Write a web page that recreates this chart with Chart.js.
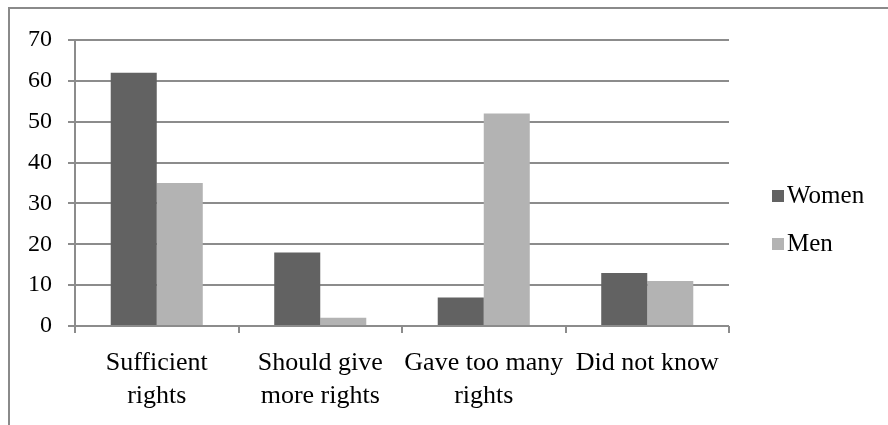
<!DOCTYPE html>
<html>
<head>
<meta charset="utf-8">
<script src="https://cdn.jsdelivr.net/npm/chart.js@4.4.1/dist/chart.umd.min.js"></script>
<style>
	html, body { margin: 0; padding: 0; background: #fff; }
	.frame {
		position: absolute;
		left: 8px;
		top: 7px;
		width: 880px;
		height: 418px;
		border-top: 2px solid #8a8a8a;
		border-left: 2px solid #8a8a8a;
	}
	#chart-rights { position: absolute; left: 0; top: 0; }
</style>
</head>
<body>
<div class="frame"></div>
<canvas id="chart-rights" width="888" height="425"></canvas>
<script>
// Data
const CATEGORIES = [["Sufficient", "rights"], ["Should give", "more rights"], ["Gave too many", "rights"], ["Did not know"]];
const WOMEN = [62, 18, 7, 13];
const MEN = [35, 2, 52, 11];
const Y_TICKS = [0, 10, 20, 30, 40, 50, 60, 70];

const FONT = "'Liberation Serif', 'Times New Roman', serif";
const GRID_COLOR = "#8c8c8c";

// Legend drawn to the right of the plot, like the spreadsheet original
const sideLegend = {
	id: "sideLegend",
	afterDraw(chart) {
		const { ctx, chartArea } = chart;
		const x = chartArea.right + 43;
		const yStart = chartArea.top + 156;
		ctx.save();
		ctx.font = "25px " + FONT;
		ctx.textBaseline = "middle";
		chart.data.datasets.forEach((ds, i) => {
			const y = yStart + i * 48;
			ctx.fillStyle = ds.backgroundColor;
			ctx.fillRect(x, y - 6, 12, 12);
			ctx.fillStyle = "#000";
			ctx.fillText(ds.label, x + 15, y);
		});
		ctx.restore();
	},
};

const CHART_DATA = {
	labels: CATEGORIES,
	datasets: [
		{
			label: "Women",
			data: WOMEN,
			backgroundColor: "#626262",
			categoryPercentage: 0.563,
			barPercentage: 1,
		},
		{
			label: "Men",
			data: MEN,
			backgroundColor: "#b3b3b3",
			categoryPercentage: 0.563,
			barPercentage: 1,
		},
	],
};

const CHART_CONFIG = {
	type: "bar",
	data: CHART_DATA,
	options: {
		responsive: false,
		animation: false,
		devicePixelRatio: 1,
		layout: {
			padding: { left: 0, top: 40, right: 159, bottom: 0 },
		},
		scales: {
			x: {
				grid: {
					drawOnChartArea: false,
					drawTicks: true,
					tickLength: 7,
					color: GRID_COLOR,
					lineWidth: 2,
				},
				border: { display: false },
				ticks: {
					color: "#000",
					padding: 14,
					maxRotation: 0,
					autoSkip: false,
					font: { family: FONT, size: 26, lineHeight: 1.27 },
				},
				afterFit: (scale) => {
					scale.height = 99;
				},
			},
			y: {
				min: 0,
				max: 70,
				afterBuildTicks: (scale) => {
					scale.ticks = Y_TICKS.map((v) => ({ value: v }));
				},
				grid: {
					color: GRID_COLOR,
					lineWidth: 2,
					tickLength: 7,
				},
				border: { display: true, color: GRID_COLOR, width: 2 },
				ticks: {
					color: "#000",
					padding: 16,
					font: { family: FONT, size: 24 },
				},
				afterFit: (scale) => {
					scale.width = 75;
				},
			},
		},
		plugins: {
			legend: { display: false },
			tooltip: { enabled: false },
		},
	},
	plugins: [sideLegend],
};

new Chart(document.getElementById("chart-rights"), CHART_CONFIG);
</script>
</body>
</html>
